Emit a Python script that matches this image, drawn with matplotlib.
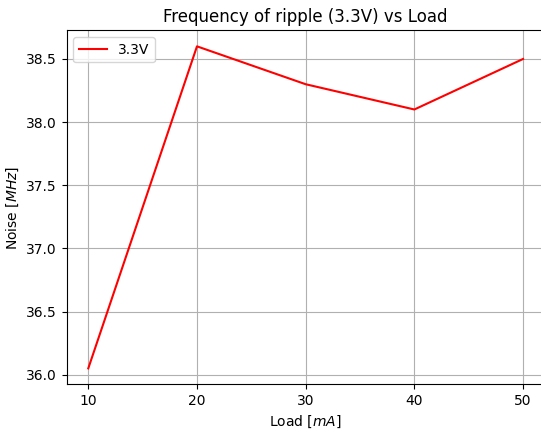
import matplotlib
matplotlib.use("Agg")
import matplotlib.pyplot as plt

# 负载 (mA) 与纹波频率 (MHz)
load = [10, 20, 30, 40, 50]
noise_33v = [36.05, 38.6, 38.3, 38.1, 38.5]

fig = plt.figure(figsize=(5.41, 4.32), dpi=100)
# 原图右侧被裁掉，轴的右边缘超出画布
ax = fig.add_axes([0.123, 0.110, 0.884, 0.820])
ax.plot(load, noise_33v, color="red", label="3.3V")
ax.set_title("Frequency of ripple (3.3V) vs Load")
ax.set_xlabel("Load [$mA$]")
ax.set_ylabel("Noise [$MHz$]")
ax.set_xticks(load)
ax.grid(True)
ax.legend(loc="upper left")

fig.savefig("out.png", dpi=100)
